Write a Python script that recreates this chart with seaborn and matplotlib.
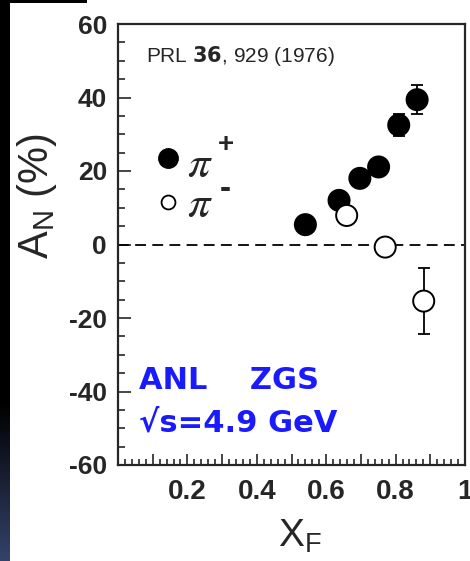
"""
Single-spin asymmetry A_N vs x_F at ANL ZGS (PRL 36, 929, 1976).
"""

import numpy as np
import pandas as pd
import matplotlib
import matplotlib.pyplot as plt
import seaborn as sns
from matplotlib.ticker import MultipleLocator, FuncFormatter

# ── Data ──────────────────────────────────────────────────────────────────────

PIP_XF  = [0.54, 0.637, 0.697, 0.751, 0.809, 0.862]
PIP_AN  = [5.4, 12.0, 18.0, 21.1, 32.5, 39.4]
PIP_ERR = [1.5, 1.5, 1.5, 1.5, 3.0, 4.0]

PIM_XF  = [0.659, 0.770, 0.881]
PIM_AN  = [7.9, -0.7, -15.4]
PIM_ERR = [1.5, 1.5, 9.0]

X_TICKS = [0.2, 0.4, 0.6, 0.8, 1.0]
Y_TICKS = [-60, -40, -20, 0, 20, 40, 60]

# ── Style ─────────────────────────────────────────────────────────────────────

sns.set_style("ticks")
plt.rcParams["font.family"] = ["Liberation Sans", "DejaVu Sans"]
plt.rcParams["axes.unicode_minus"] = False
BLUE = "#1a1aff"

df = pd.concat([
    pd.DataFrame({"xF": PIP_XF, "AN": PIP_AN, "err": PIP_ERR, "pion": "pi+"}),
    pd.DataFrame({"xF": PIM_XF, "AN": PIM_AN, "err": PIM_ERR, "pion": "pi-"}),
], ignore_index=True)

fig = plt.figure(figsize=(4.70, 5.61), dpi=100, facecolor="white")
ax = fig.add_axes([118 / 470, 96 / 561, 347 / 470, 441 / 561])

# dark slide edge on the left
edge = fig.add_axes([0, 0, 10 / 470, 1])
grad = np.linspace(0, 1, 256).reshape(-1, 1)
cmap = matplotlib.colors.LinearSegmentedColormap.from_list(
    "edge", [(0, "#34426a"), (0.28, "#000000"), (1, "#000000")])
edge.imshow(grad, aspect="auto", cmap=cmap, origin="lower")
edge.axis("off")
top = fig.add_axes([0, 558 / 561, 87 / 470, 3 / 561])
top.set_facecolor("black")
top.set_xticks([]); top.set_yticks([])
for s in top.spines.values():
    s.set_visible(False)

# ── Marks ─────────────────────────────────────────────────────────────────────

ax.axhline(0, color="black", lw=1.3, ls=(0, (6, 3.5)), zorder=1)

for pion, sub in df.groupby("pion"):
    ax.errorbar(sub["xF"], sub["AN"], yerr=sub["err"], fmt="none",
                ecolor="black", elinewidth=1.3, capsize=4, capthick=1.3, zorder=2)

sns.scatterplot(data=df, x="xF", y="AN", hue="pion", style="pion",
                markers={"pi+": "o", "pi-": "o"},
                palette={"pi+": "black", "pi-": "white"},
                s=230, edgecolor="black", linewidth=1.4,
                legend=False, ax=ax, zorder=3)

# ── Axes ──────────────────────────────────────────────────────────────────────

ax.set_xlim(0, 1)
ax.set_ylim(-60, 60)
ax.xaxis.set_major_locator(MultipleLocator(0.1))
ax.xaxis.set_minor_locator(MultipleLocator(0.02))
ax.xaxis.set_major_formatter(FuncFormatter(
    lambda v, _: ("1" if abs(v - 1) < 1e-6 else f"{v:.1f}")
    if any(abs(v - t) < 1e-6 for t in X_TICKS) else ""))
ax.set_yticks(Y_TICKS)
ax.yaxis.set_minor_locator(MultipleLocator(5))

ax.tick_params(axis="both", which="both", direction="in", width=1.2,
               top=False, right=False)
ax.tick_params(axis="y", which="major", length=9, labelsize=19, pad=8)
ax.tick_params(axis="y", which="minor", length=5)
ax.tick_params(axis="x", which="major", length=8, labelsize=20, pad=10)
ax.tick_params(axis="x", which="minor", length=4)
for lab in ax.get_yticklabels() + ax.get_xticklabels():
    lab.set_fontweight("bold")
for s in ax.spines.values():
    s.set_linewidth(1.6)
    s.set_visible(True)

ax.set_xlabel("X$_\\mathregular{F}$", fontsize=28, va="top")
ax.set_ylabel("A$_\\mathregular{N}$ (%)", fontsize=30)
ax.xaxis.set_label_coords(0.524, -0.12)
ax.yaxis.set_label_coords(-0.17, 0.61)

# ── Annotations ───────────────────────────────────────────────────────────────

ax.text(0.08, 0.955, "PRL $\\bf{36}$, 929 (1976)", transform=ax.transAxes,
        fontsize=15, ha="left", va="top", family=["Liberation Sans"])

ax.plot([0.145], [23.5], "o", ms=14, color="black")
ax.plot([0.145], [11.5], "o", ms=10, mfc="white", mec="black", mew=1.3)
for y, sign, dy in [(21.5, "+", 5.5), (10.5, "-", 4.5)]:
    ax.text(0.2, y, "$\\pi$", fontsize=32, va="center", math_fontfamily="stix")
    ax.text(0.31, y + dy, sign, fontsize=20 if sign == "+" else 24,
            va="center", ha="center", fontweight="bold",
            family=["Liberation Sans"])

ax.text(0.06, -37, "ANL    ZGS", color=BLUE, fontsize=22, fontweight="bold",
        family=["DejaVu Sans"], va="center")
ax.text(0.06, -48.5, "\u221as=4.9 GeV", color=BLUE, fontsize=22,
        fontweight="bold", family=["DejaVu Sans"], va="center")

fig.savefig("out.png", dpi=100, facecolor="white")
